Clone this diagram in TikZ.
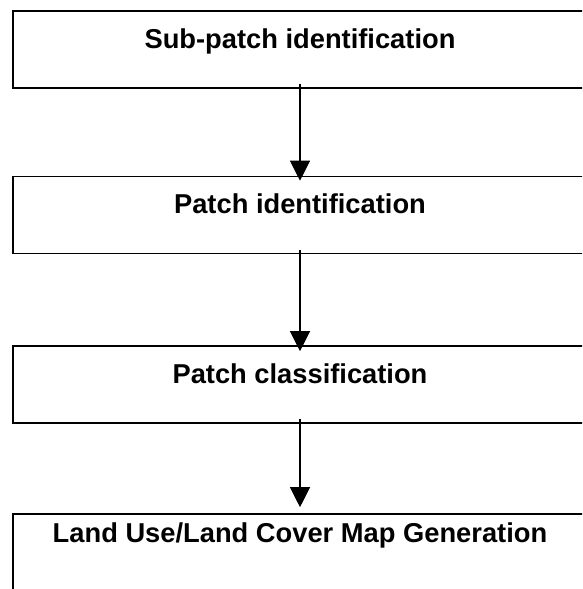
\documentclass[tikz,border=0pt]{standalone}
\usepackage{fontspec}
\setmainfont{Liberation Sans}
\usetikzlibrary{arrows.meta}

\tikzset{
	stagebox/.style={draw, line width=1.6pt, rectangle, inner sep=0pt,
		minimum width=574pt, text height=37pt, text depth=40pt,
		font=\fontsize{27.3}{31}\selectfont\bfseries},
	flowarrow/.style={line width=1.2pt, -{Triangle[length=20pt,width=20pt]}}
}

\begin{document}
\begin{tikzpicture}[x=1pt,y=-1pt]
	
	\clip (0,0) rectangle (582,589);
	\node[stagebox] (subpatch) at (300,49.5) {Sub-patch identification};
	\node[stagebox] (patchid) at (300,215) {Patch identification};
	\node[stagebox] (patchclass) at (300,384.5) {Patch classification};
	\node[stagebox, text height=28pt, text depth=172pt] (lulc) at (300,614) {Land Use/Land Cover Map Generation};
	\draw[flowarrow] ([yshift=5pt]subpatch.south) -- ([yshift=-5pt]patchid.north);
	\draw[flowarrow] ([yshift=4pt]patchid.south) -- ([yshift=-6pt]patchclass.north);
	\draw[flowarrow] ([yshift=5pt]patchclass.south) -- ([yshift=6pt]lulc.north);
	
\end{tikzpicture}
\end{document}
